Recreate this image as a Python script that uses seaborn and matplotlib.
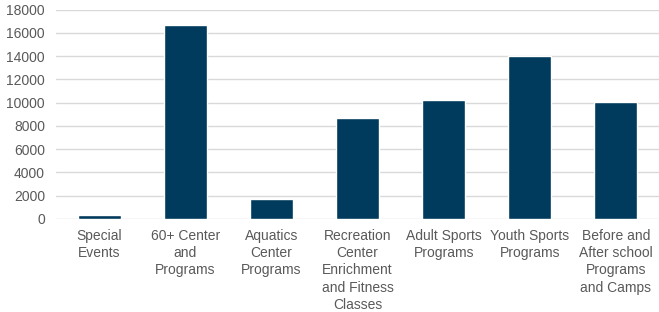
import matplotlib
matplotlib.use("Agg")
import matplotlib.pyplot as plt
import seaborn as sns
import pandas as pd

categories = [
    "Special\nEvents",
    "60+ Center\nand\nPrograms",
    "Aquatics\nCenter\nPrograms",
    "Recreation\nCenter\nEnrichment\nand Fitness\nClasses",
    "Adult Sports\nPrograms",
    "Youth Sports\nPrograms",
    "Before and\nAfter school\nPrograms\nand Camps",
]
values = [350, 16650, 1750, 8700, 10200, 14000, 10100]
yticks = [0, 2000, 4000, 6000, 8000, 10000, 12000, 14000, 16000, 18000]

sns.set_theme(style="white")
plt.rcParams["font.family"] = ["Liberation Sans", "DejaVu Sans"]

df = pd.DataFrame({"category": categories, "value": values})

fig = plt.figure(figsize=(6.59, 3.12), dpi=100)
ax = fig.add_axes([56 / 659, 93 / 312, 603 / 659, (219 - 9.7) / 312])
sns.barplot(data=df, x="category", y="value", color="#003a5c", width=0.5,
            saturation=1, ax=ax, zorder=3)
ax.set_ylim(0, 18000)
ax.set_yticks(yticks)
ax.set_yticklabels([str(t) for t in yticks])
ax.set_xlim(-0.5, len(categories) - 0.5)
ax.grid(axis="y", color="#d9d9d9", linewidth=1.0, zorder=0)
ax.grid(axis="x", visible=False)
for s in ax.spines.values():
    s.set_visible(False)
ax.set_xlabel("")
ax.set_ylabel("")
ax.tick_params(axis="both", length=0, colors="#595959", labelsize=10)
ax.tick_params(axis="y", pad=8)
ax.tick_params(axis="x", pad=7)
for lbl in ax.get_xticklabels():
    lbl.set_linespacing(1.3)

fig.savefig("out.png", dpi=100)
